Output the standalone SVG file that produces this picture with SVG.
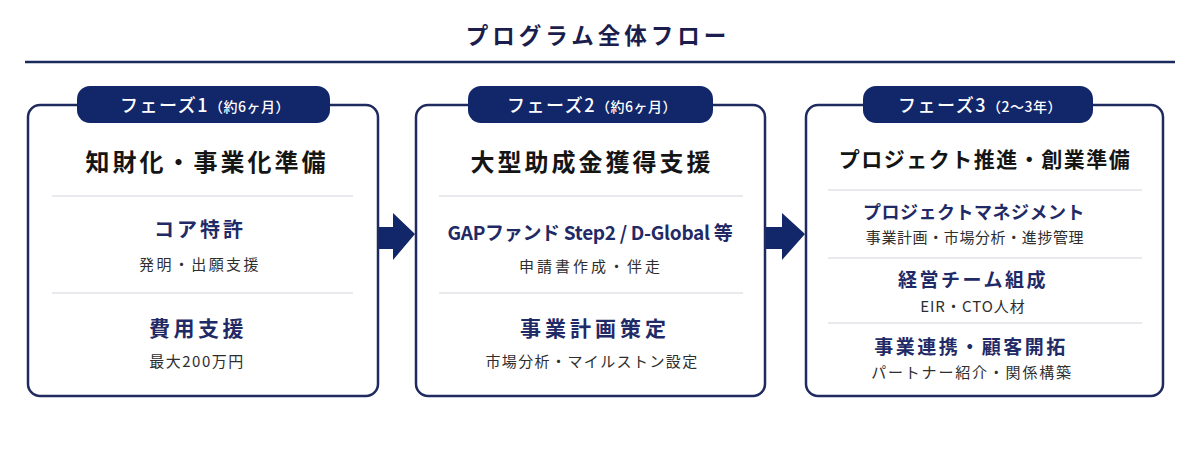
<svg xmlns="http://www.w3.org/2000/svg" width="1200" height="450" viewBox="0 0 1200 450">
<style>
text{font-family:"Noto Sans CJK JP","Noto Sans",sans-serif;text-anchor:middle}
.ttl{font-size:22.5px;font-weight:700;fill:#1b1e4c;letter-spacing:4px}
.box{fill:#fff;stroke:#1f2a5f;stroke-width:2.5}
.pill{fill:#12266a}
.pt{fill:#fff;font-size:18px;font-weight:500;letter-spacing:1.5px}
.ps{font-size:14px;letter-spacing:0.5px}
.h{fill:#151515;font-weight:700}
.s{fill:#1f2a66;font-weight:700}
.d{fill:#2e2e2e;font-size:15px;font-weight:400}
.div{stroke:#d3d6de;stroke-width:1.2}
.arr{fill:#12266a}
</style>
<g id="title">
<text class="ttl" x="598" y="44">プログラム全体フロー</text>
<line x1="25" y1="62" x2="1175" y2="62" stroke="#1b2a5c" stroke-width="2.5"/>
</g>
<g id="connectors">
<polygon class="arr" points="378,227 393,227 393,213 415,234 393,260 393,249 378,249"/>
<polygon class="arr" points="765,227 782,227 782,213 805,234 782,260 782,249 765,249"/>
</g>
<g id="phase1">
<rect class="box" x="28" y="105" width="350" height="291" rx="12"/>
<rect class="pill" x="77" y="86" width="253" height="37" rx="13"/>
<text class="pt" x="205" y="112">フェーズ1<tspan class="ps">（約6ヶ月）</tspan></text>
<text class="h" x="207" y="171" font-size="24" letter-spacing="3">知財化・事業化準備</text>
<line class="div" x1="52" y1="196" x2="353" y2="196"/>
<text class="s" x="200" y="237" font-size="20" letter-spacing="3">コア特許</text>
<text class="d" x="200" y="270" letter-spacing="2.4">発明・出願支援</text>
<line class="div" x1="52" y1="293" x2="353" y2="293"/>
<text class="s" x="198" y="336" font-size="21" letter-spacing="3.5">費用支援</text>
<text class="d" x="197" y="367" letter-spacing="1.5">最大200万円</text>
</g>
<g id="phase2">
<rect class="box" x="416" y="105" width="349" height="291" rx="12"/>
<rect class="pill" x="468" y="86" width="245" height="37" rx="13"/>
<text class="pt" x="592" y="112">フェーズ2<tspan class="ps">（約6ヶ月）</tspan></text>
<text class="h" x="592" y="171" font-size="24" letter-spacing="3">大型助成金獲得支援</text>
<line class="div" x1="439" y1="196" x2="743" y2="196"/>
<text class="s" x="590" y="240" font-size="19" font-weight="600" letter-spacing="-0.3">GAPファンド Step2 / D-Global 等</text>
<text class="d" x="591" y="272" letter-spacing="3">申請書作成・伴走</text>
<line class="div" x1="439" y1="293" x2="743" y2="293"/>
<text class="s" x="595" y="336" font-size="21" letter-spacing="4">事業計画策定</text>
<text class="d" x="592" y="367" letter-spacing="1.4">市場分析・マイルストン設定</text>
</g>
<g id="phase3">
<rect class="box" x="806" y="105" width="357" height="291" rx="12"/>
<rect class="pill" x="863" y="86" width="230" height="37" rx="13"/>
<text class="pt" x="980" y="112">フェーズ3<tspan class="ps">（2～3年）</tspan></text>
<text class="h" x="985" y="167" font-size="21" letter-spacing="1.5">プロジェクト推進・創業準備</text>
<line class="div" x1="828" y1="190" x2="1142" y2="190"/>
<text class="s" x="974" y="219" font-size="18" letter-spacing="0.5">プロジェクトマネジメント</text>
<text class="d" x="975" y="243" font-size="14" letter-spacing="0.6">事業計画・市場分析・進捗管理</text>
<line class="div" x1="828" y1="258" x2="1142" y2="258"/>
<text class="s" x="973" y="287" font-size="19" letter-spacing="2.5">経営チーム組成</text>
<text class="d" x="973" y="312" font-size="14" letter-spacing="1">EIR・CTO人材</text>
<line class="div" x1="828" y1="323" x2="1142" y2="323"/>
<text class="s" x="971" y="354" font-size="19" letter-spacing="2.5">事業連携・顧客開拓</text>
<text class="d" x="972" y="378" font-size="14" letter-spacing="1.8">パートナー紹介・関係構築</text>
</g>
</svg>
